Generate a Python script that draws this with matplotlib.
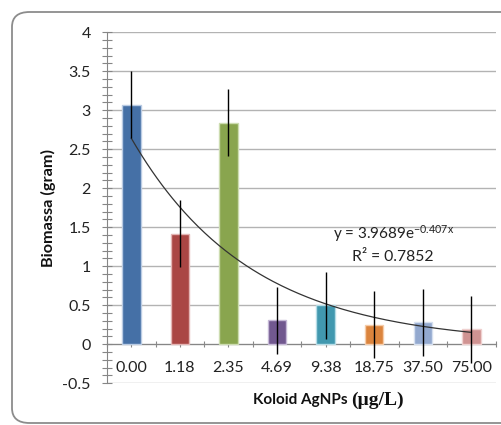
import numpy as np
import matplotlib
matplotlib.use("Agg")
import matplotlib.pyplot as plt
from matplotlib.patches import FancyBboxPatch
from matplotlib.ticker import MultipleLocator, FixedLocator

# ---- data ----
categories = ["0.00", "1.18", "2.35", "4.69", "9.38", "18.75", "37.50", "75.00"]
biomass = [3.07, 1.42, 2.84, 0.31, 0.50, 0.25, 0.28, 0.19]
errors = [0.43, 0.43, 0.43, 0.43, 0.43, 0.43, 0.43, 0.43]
bar_colors = ["#4570A6", "#AA4644", "#89A54E", "#71588F", "#4198AF", "#DB843D", "#93A9CF", "#D09392"]
edge_colors = ["#B9CBE3", "#E3B5B4", "#CCDCB0", "#C5B8D6", "#B5DCE6", "#F5CCA9", "#D5DFEF", "#EFD0CF"]
trend_a = 3.9689
trend_b = -0.407
y_ticks = [-0.5, 0, 0.5, 1, 1.5, 2, 2.5, 3, 3.5, 4]
y_tick_labels = ["-0.5", "0", "0.5", "1", "1.5", "2", "2.5", "3", "3.5", "4"]

plt.rcParams["font.family"] = ["Lato", "DejaVu Sans"]
plt.rcParams["mathtext.fontset"] = "custom"
plt.rcParams["mathtext.rm"] = "Lato"
plt.rcParams["mathtext.it"] = "Lato:italic"

W, H = 502, 425
fig = plt.figure(figsize=(W / 100, H / 100), dpi=100)
fig.patch.set_facecolor("white")

# outer rounded frame
frame = FancyBboxPatch((12 / W, 2 / H), 560 / W, (423 - 12) / H,
                       boxstyle="round,pad=0,rounding_size=0.035",
                       transform=fig.transFigure, facecolor="none",
                       edgecolor="#8C8C8C", linewidth=1.3, zorder=0)
fig.patches.append(frame)

left, right, top, bottom = 107, 495.7, 32.3, 383.3
ax = fig.add_axes([left / W, 1 - bottom / H, (right - left) / W, (bottom - top) / H])
ax.set_facecolor("none")

x = np.arange(len(categories))
ax.bar(x, biomass, width=0.38, color=bar_colors, edgecolor=edge_colors,
       linewidth=1.0, zorder=3)
ax.errorbar(x, biomass, yerr=errors, fmt="none", ecolor="black",
            elinewidth=1.0, capsize=0, zorder=5)

# exponential trendline (Excel-style, x = 1..n)
xt = np.linspace(1, len(categories), 200)
yt = trend_a * np.exp(trend_b * xt)
ax.plot(xt - 1, yt, color="#333333", linewidth=0.9, zorder=4)

ax.set_xlim(-0.5, len(categories) - 0.5)
ax.set_ylim(-0.5, 4)

ax.yaxis.set_major_locator(FixedLocator(y_ticks))
ax.set_yticklabels(y_tick_labels)
ax.yaxis.set_minor_locator(MultipleLocator(0.1))
ax.tick_params(axis="y", which="both", direction="inout", length=6.5,
               width=0.8, color="#868686", pad=8.5, labelsize=11.5,
               labelcolor="#222222")

ax.xaxis.set_major_locator(FixedLocator(np.arange(-0.5, len(categories), 1)))
ax.xaxis.set_major_formatter(plt.NullFormatter())
ax.xaxis.set_minor_locator(FixedLocator(x))
ax.set_xticks(x, minor=True)
ax.set_xticklabels(categories, minor=True)
ax.tick_params(axis="x", which="both", direction="inout", length=5,
               width=0.8, color="#868686", labelsize=11.5, labelcolor="#222222")
ax.tick_params(axis="x", which="minor", pad=9.5)

ax.grid(axis="y", which="major", color="#B3B3B3", linewidth=1.0, zorder=1)
for s in ["top", "right"]:
    ax.spines[s].set_visible(False)
ax.spines["bottom"].set_position(("data", 0))
ax.spines["bottom"].set_color("#868686")
ax.spines["left"].set_color("#868686")
ax.spines["bottom"].set_zorder(2)

ax.text(5.39, 1.42, r"y = 3.9689e$^{\mathrm{-0.407x}}$", ha="center", va="center",
        fontsize=11, color="#222222", zorder=6)
ax.text(5.39, 1.115, "R² = 0.7852", ha="center", va="center",
        fontsize=11.3, color="#222222", zorder=6)

# axis titles
fig.text(48 / W, 1 - 208 / H, "Biomassa (gram)", rotation=90, ha="center",
         va="center", fontsize=11.7, fontweight="bold", color="#111111")
fig.text(351 / W, 1 - 400 / H, "Koloid AgNPs ", ha="right", va="center",
         fontsize=11, fontweight="bold", color="#111111")
fig.text(351 / W, 1 - 400 / H, "(µg/L)", ha="left", va="center",
         fontsize=14, fontweight="bold", color="#111111",
         family=["Liberation Serif", "DejaVu Serif"])

fig.savefig("out.png", dpi=100, facecolor="white")
